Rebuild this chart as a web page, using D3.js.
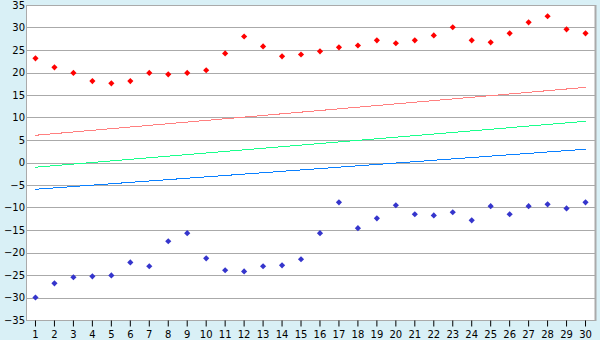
<!DOCTYPE html>
<html>
<head>
<meta charset="utf-8">
<script src="https://cdn.jsdelivr.net/npm/d3@7"></script>
<style>
  body { margin: 0; background: #d9f0f6; }
  text { font-family: "DejaVu Sans", Verdana, sans-serif; font-size: 10px; fill: #000; }
</style>
</head>
<body>
<script>
// categories on the x axis
var categories = d3.range(1, 31);
// scatter series
var redPoints = [23.15, 21.15, 19.9, 18.1, 17.6, 18.1, 19.9, 19.6, 19.9, 20.5,
                 24.25, 28.0, 25.8, 23.6, 24.0, 24.7, 25.6, 26.0, 27.15, 26.5,
                 27.15, 28.25, 30.05, 27.15, 26.7, 28.7, 31.15, 32.5, 29.6, 28.7];
var bluePoints = [-30.0, -26.85, -25.5, -25.3, -25.1, -22.2, -23.05, -17.5, -15.7, -21.3,
                  -23.95, -24.2, -23.05, -22.85, -21.5, -15.7, -8.85, -14.6, -12.4, -9.5,
                  -11.5, -11.75, -11.05, -12.85, -9.7, -11.5, -9.7, -9.3, -10.2, -8.85];
// straight lines: value at first and last category
var lineCats = [1, 30];
var redLine = [6.05, 16.7];
var greenLine = [-1.05, 9.15];
var blueLine = [-5.95, 2.95];
// y ticks
var yTicks = d3.range(-35, 36, 5);

var W = 600, H = 340;
var plotL = 26, plotR = 595, plotT = 5, plotB = 320;

var svg = d3.select("body").append("svg")
  .attr("width", W).attr("height", H);

svg.append("rect").attr("width", W).attr("height", H).attr("fill", "#d9f0f6");

var x = d3.scaleBand().domain(categories).range([plotL, plotR]);
var y = d3.scaleLinear().domain([-35, 35]).range([plotB, plotT]);
var cx = function(c) { return x(c) + x.bandwidth() / 2; };

// plot background
svg.append("rect")
  .attr("x", plotL).attr("y", plotT)
  .attr("width", plotR - plotL).attr("height", plotB - plotT)
  .attr("fill", "#fff");

// gridlines
svg.append("g").selectAll("line")
  .data(yTicks)
  .enter().append("line")
  .attr("x1", plotL).attr("x2", plotR)
  .attr("y1", function(d) { return Math.round(y(d)) + 0.5; })
  .attr("y2", function(d) { return Math.round(y(d)) + 0.5; })
  .attr("stroke", "#aaa").attr("stroke-width", 1);

// frame right + left axis
svg.append("line").attr("x1", plotR + 0.5).attr("x2", plotR + 0.5)
  .attr("y1", plotT).attr("y2", plotB + 1).attr("stroke", "#aaa").attr("stroke-width", 2);
svg.append("line").attr("x1", plotL + 0.5).attr("x2", plotL + 0.5)
  .attr("y1", plotT).attr("y2", plotB + 1).attr("stroke", "#aaa");

// y axis labels
var yAxis = d3.axisLeft(y).tickValues(yTicks).tickSize(0).tickPadding(1);
var gy = svg.append("g").attr("transform", "translate(" + plotL + ",0)").call(yAxis);
gy.select(".domain").remove();
gy.selectAll("text").attr("font-size", null).attr("font-family", null).attr("fill", "#000");

// x axis
var xAxis = d3.axisBottom(x).tickSize(6).tickPadding(4);
var gx = svg.append("g").attr("transform", "translate(0," + (plotB + 0.5) + ")").call(xAxis);
gx.select(".domain").remove();
gx.selectAll("line").attr("stroke", "#000");
gx.selectAll("text").attr("font-size", null).attr("font-family", null).attr("fill", "#000");

// lines
var line = d3.line()
  .x(function(d) { return cx(d[0]); })
  .y(function(d) { return y(d[1]); });
[[redLine, "#ff8080"], [greenLine, "#1aff8c"], [blueLine, "#0a80ff"]].forEach(function(s) {
  svg.append("path")
    .datum(d3.zip(lineCats, s[0]))
    .attr("d", line)
    .attr("fill", "none")
    .attr("stroke", s[1])
    .attr("stroke-width", 1)
    .attr("shape-rendering", "crispEdges");
});

// markers: small square diamonds
var marker = d3.symbol().type(d3.symbolSquare).size(19);
[[redPoints, "#ff0000"], [bluePoints, "#3535cc"]].forEach(function(s) {
  svg.append("g").selectAll("path")
    .data(s[0])
    .enter().append("path")
    .attr("d", marker)
    .attr("transform", function(d, i) {
      return "translate(" + cx(categories[i]) + "," + y(d) + ") rotate(45)";
    })
    .attr("fill", s[1]);
});
</script>
</body>
</html>
